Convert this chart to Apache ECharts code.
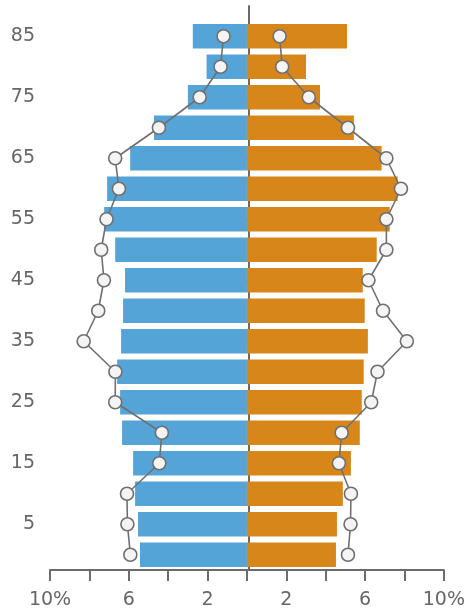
<!DOCTYPE html>
<html><head><meta charset="utf-8">
<script src="https://cdn.jsdelivr.net/npm/echarts@6/dist/echarts.min.js"></script>
<style>html,body{margin:0;padding:0;background:#fff}#c{width:468px;height:613px}</style>
</head><body><div id="c"></div>
<script>
const ages = [0,5,10,15,20,25,30,35,40,45,50,55,60,65,70,75,80,85];
const leftBars = [5.43,5.53,5.68,5.78,6.34,6.44,6.59,6.39,6.29,6.19,6.69,7.25,7.10,5.93,4.72,3.00,2.05,2.75];
const rightBars = [4.52,4.57,4.87,5.28,5.73,5.83,5.93,6.14,5.98,5.88,6.59,7.25,7.65,6.84,5.43,3.71,3.00,5.08];
const leftRef = [5.92,6.07,6.09,4.45,4.32,6.69,6.68,8.29,7.55,7.26,7.40,7.13,6.50,6.69,4.47,2.40,1.34,1.19];
const rightRef = [5.13,5.26,5.28,4.67,4.81,6.31,6.63,8.12,6.91,6.17,7.08,7.08,7.82,7.08,5.13,3.14,1.79,1.66];
const xTicks = [-10,-8,-6,-4,-2,0,2,4,6,8,10];
const xLabelValues = [2,6,10];

const chart = echarts.init(document.getElementById('c'));
const axisColor = '#6b6b6b';
const font = 'DejaVu Sans, Verdana, sans-serif';
const refLine = {
  type: 'line', symbol: 'circle', symbolSize: 13, z: 5,
  itemStyle: {color: '#f4f4f4', borderColor: '#707070', borderWidth: 1.6},
  lineStyle: {color: '#707070', width: 1.6}
};
chart.setOption({
  animation: false,
  grid: [
    {left: 50, right: 20, top: 21, bottom: 43},
    {left: 50, right: 20, top: 6, bottom: 43}
  ],
  xAxis: [
    {type: 'value', gridIndex: 0, min: xTicks[0], max: xTicks[xTicks.length-1], interval: 2,
     axisLine: {show: true, lineStyle: {color: axisColor, width: 2}},
     axisTick: {show: true, length: 11, lineStyle: {color: axisColor, width: 2}},
     splitLine: {show: false},
     axisLabel: {color: '#666', fontSize: 19, fontFamily: font, margin: 21,
       formatter: v => { const a = Math.abs(v); if (xLabelValues.indexOf(a) < 0) return ''; return a === 10 ? a + '%' : String(a); }}},
    {type: 'value', gridIndex: 1, show: false, min: -10, max: 10}
  ],
  yAxis: [
    {type: 'category', gridIndex: 0, data: ages,
     axisLine: {show: false},
     axisTick: {show: true, length: 10, alignWithLabel: true, interval: i => i % 2 === 1, lineStyle: {color: axisColor, width: 2}},
     axisLabel: {color: '#666', fontSize: 19, fontFamily: font, margin: 15, interval: i => i % 2 === 1}},
    {type: 'value', gridIndex: 1, min: 0, max: 1,
     axisLine: {show: true, lineStyle: {color: axisColor, width: 2}},
     axisTick: {show: false}, axisLabel: {show: false}, splitLine: {show: false}}
  ],
  series: [
    {type: 'bar', stack: 'p', data: leftBars.map(v => -v), barCategoryGap: '19%', itemStyle: {color: '#55a4d8'}},
    {type: 'bar', stack: 'p', data: rightBars, barCategoryGap: '19%', itemStyle: {color: '#d7861a'}},
    Object.assign({data: leftRef.map(v => -v)}, refLine),
    Object.assign({data: rightRef}, refLine)
  ]
});
</script></body></html>
